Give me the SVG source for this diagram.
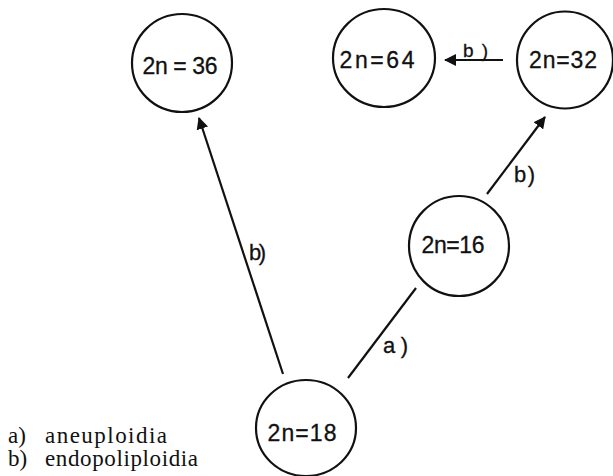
<svg xmlns="http://www.w3.org/2000/svg" width="613" height="476" viewBox="0 0 613 476">
<defs>
<style>
.node ellipse{fill:none;stroke:#111;stroke-width:2.2}
.node text{font-family:"Liberation Sans",Arial,sans-serif;font-size:23px;fill:#111;stroke:#111;stroke-width:0.3;text-anchor:middle;dominant-baseline:central}
.conn line{stroke:#111;stroke-width:2.2}
.lbl{font-family:"Liberation Sans",Arial,sans-serif;font-size:22px;fill:#111;stroke:#111;stroke-width:0.3}
.legend{font-family:"Liberation Serif","Times New Roman",serif;font-size:23px;fill:#111}
</style>
<marker id="ah" viewBox="0 0 12 12" refX="11" refY="6" markerWidth="12" markerHeight="12" markerUnits="userSpaceOnUse" orient="auto">
<path d="M0,0 L12,6 L0,12 z" fill="#111"/>
</marker>
</defs>
<rect width="613" height="476" fill="#fff"/>
<g id="connectors" class="conn">
<line x1="283" y1="374" x2="199" y2="118" marker-end="url(#ah)"/>
<line x1="348" y1="378" x2="416" y2="288"/>
<line x1="487" y1="194" x2="545" y2="117" marker-end="url(#ah)"/>
<line x1="503" y1="60" x2="445" y2="60" marker-end="url(#ah)"/>
<text class="lbl" x="249" y="260" textLength="17">b)</text>
<text class="lbl" x="383" y="353" textLength="25">a)</text>
<text class="lbl" x="514" y="182" textLength="21">b)</text>
<text class="lbl" x="463" y="57" textLength="25" style="font-size:19px">b)</text>
</g>
<g id="n36" class="node">
<ellipse cx="182" cy="63" rx="50" ry="49"/>
<text x="180" y="66" textLength="75">2n = 36</text>
</g>
<g id="n64" class="node">
<ellipse cx="384" cy="58" rx="51" ry="49"/>
<text x="377" y="60" textLength="75">2n=64</text>
</g>
<g id="n32" class="node">
<ellipse cx="565" cy="60" rx="48" ry="48.5"/>
<text x="563" y="60" textLength="68">2n=32</text>
</g>
<g id="n16" class="node">
<ellipse cx="459" cy="246" rx="50" ry="50"/>
<text x="453" y="245" textLength="63">2n=16</text>
</g>
<g id="n18" class="node">
<ellipse cx="306" cy="428" rx="50" ry="48"/>
<text x="302" y="433" textLength="69">2n=18</text>
</g>
<g id="legend">
<text class="legend" y="443"><tspan x="8">a)</tspan><tspan x="45" textLength="122">aneuploidia</tspan></text>
<text class="legend" y="466"><tspan x="8">b)</tspan><tspan x="45" textLength="153">endopoliploidia</tspan></text>
</g>
</svg>
